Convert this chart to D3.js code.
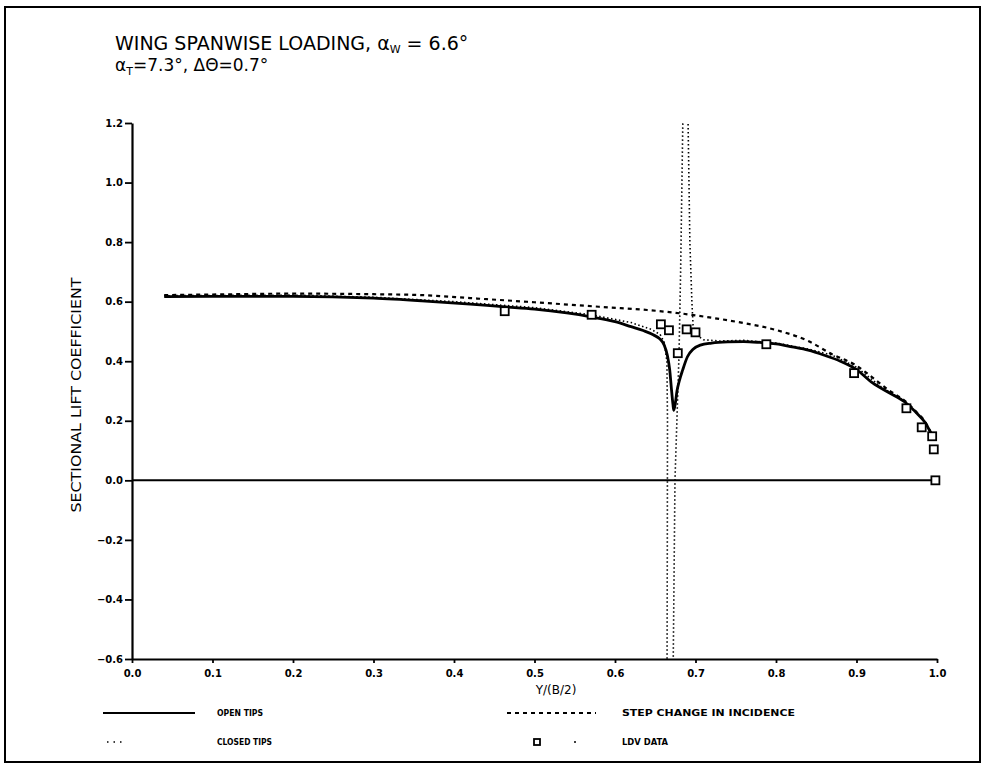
<!DOCTYPE html>
<html>
<head>
<meta charset="utf-8">
<script src="https://cdn.jsdelivr.net/npm/d3@7"></script>
<style>
  body { margin: 0; background: #fff; }
  svg { display: block; }
  text { font-family: "DejaVu Sans", sans-serif; fill: #000; }
</style>
</head>
<body>
<svg id="chart" width="984" height="769"></svg>
<script>
'use strict';

// tick values
var xTicks = [0, 0.1, 0.2, 0.3, 0.4, 0.5, 0.6, 0.7, 0.8, 0.9, 1.0];
var yTicks = [-0.6, -0.4, -0.2, 0.0, 0.2, 0.4, 0.6, 0.8, 1.0, 1.2];

// open tips (solid)
var openTips = [
  [0.04,0.617],[0.1,0.618],[0.2,0.618],[0.3,0.612],[0.36,0.603],[0.42,0.592],
  [0.46,0.583],[0.5,0.575],[0.54,0.562],[0.57,0.549],[0.6,0.533],[0.62,0.516],
  [0.635,0.503],[0.648,0.488],[0.656,0.474],[0.661,0.455],[0.665,0.42],[0.668,0.37],
  [0.670,0.31],[0.672,0.255],[0.673,0.235],[0.675,0.26],[0.677,0.3],[0.68,0.335],
  [0.684,0.37],[0.69,0.415],[0.697,0.44],[0.706,0.454],[0.72,0.461],[0.74,0.465],
  [0.76,0.466],[0.78,0.463],[0.8,0.458],[0.82,0.448],[0.84,0.437],[0.86,0.42],
  [0.88,0.4],[0.9,0.372],[0.92,0.327],[0.94,0.295],[0.96,0.263],[0.975,0.225],
  [0.985,0.195],[0.994,0.15]
];

// step change in incidence (dashed)
var stepChange = [
  [0.04,0.622],[0.1,0.624],[0.2,0.627],[0.3,0.625],[0.36,0.622],[0.42,0.612],
  [0.5,0.598],[0.58,0.583],[0.64,0.572],[0.68,0.561],[0.72,0.546],[0.76,0.528],
  [0.8,0.505],[0.84,0.468],[0.87,0.423],[0.9,0.385],[0.92,0.345],[0.94,0.303],
  [0.96,0.267],[0.975,0.228],[0.985,0.198],[0.994,0.152]
];

// closed tips (dotted), null breaks the line at the singularities
var closedTips = [
  [0.04,0.62],[0.2,0.622],[0.3,0.615],[0.4,0.6],[0.5,0.58],[0.57,0.556],[0.62,0.53],
  [0.645,0.507],[0.656,0.49],[0.661,0.465],[0.6645,0.4],[0.6652,0.2],[0.665,-0.2],[0.6646,-0.7],
  null,
  [0.672,-0.7],[0.6745,0.0],[0.6795,0.42],[0.6815,0.7],[0.6845,1.25],
  null,
  [0.6905,1.25],[0.693,0.8],[0.6955,0.6],[0.697,0.52],[0.7,0.49],[0.71,0.472],
  [0.73,0.468],[0.76,0.47],[0.8,0.461],[0.84,0.441],[0.87,0.42],[0.9,0.38],
  [0.93,0.315],[0.96,0.265],[0.985,0.197],[0.994,0.15]
];

// LDV data (squares)
var ldvData = [
  [0.463,0.568],[0.571,0.556],[0.657,0.524],[0.667,0.504],[0.678,0.427],[0.689,0.507],
  [0.700,0.497],[0.788,0.457],[0.897,0.36],[0.962,0.242],[0.981,0.178],[0.994,0.148],
  [0.996,0.104],[0.998,0.0]
];

var svg = d3.select("#chart"),
    x = d3.scaleLinear().domain([0, 1]).range([132, 937]),
    y = d3.scaleLinear().domain([-0.6, 1.2]).range([659, 123]);

// outer frame
svg.append("rect")
    .attr("x", 5).attr("y", 7).attr("width", 975).attr("height", 755)
    .attr("fill", "none").attr("stroke", "#000").attr("stroke-width", 2);

// clip to the plot area
svg.append("clipPath").attr("id", "plot")
  .append("rect")
    .attr("x", x(0)).attr("y", y(1.2))
    .attr("width", x(1) - x(0)).attr("height", y(-0.6) - y(1.2));

// axes
var fmt = d3.format(".1f");
var xAxis = svg.append("g")
    .attr("transform", "translate(0," + y(-0.6) + ")")
    .call(d3.axisBottom(x).tickValues(xTicks).tickFormat(fmt).tickSize(4).tickSizeOuter(0));
var yAxis = svg.append("g")
    .attr("transform", "translate(" + x(0) + ",0)")
    .call(d3.axisLeft(y).tickValues(yTicks).tickFormat(fmt).tickSize(7).tickSizeOuter(0));

[xAxis, yAxis].forEach(function(a){
  a.select(".domain").attr("stroke-width", 2.2);
  a.selectAll(".tick line").attr("stroke-width", 1.8);
  a.selectAll(".tick text")
      .style("font-family", "'DejaVu Sans', sans-serif")
      .style("font-weight", "bold")
      .style("font-size", "10px");
});
xAxis.selectAll(".tick text").attr("dy", "1.1em");
yAxis.selectAll(".tick text").attr("x", -9);

// zero line
svg.append("line")
    .attr("x1", x(0)).attr("x2", x(0.998))
    .attr("y1", y(0)).attr("y2", y(0))
    .attr("stroke", "#000").attr("stroke-width", 2);

var line = d3.line()
    .defined(function(d){ return d !== null; })
    .x(function(d){ return x(d[0]); })
    .y(function(d){ return y(d[1]); })
    .curve(d3.curveMonotoneX);

var lineLinear = d3.line()
    .defined(function(d){ return d !== null; })
    .x(function(d){ return x(d[0]); })
    .y(function(d){ return y(d[1]); });

var plot = svg.append("g").attr("clip-path", "url(#plot)");

plot.append("path")
    .attr("d", line(stepChange))
    .attr("fill", "none").attr("stroke", "#000")
    .attr("stroke-width", 2.2).attr("stroke-dasharray", "4,4");

plot.append("path")
    .attr("d", lineLinear(closedTips))
    .attr("fill", "none").attr("stroke", "#000")
    .attr("stroke-width", 1.6).attr("stroke-dasharray", "1.5,2.5");

plot.append("path")
    .attr("d", line(openTips))
    .attr("fill", "none").attr("stroke", "#000")
    .attr("stroke-width", 2.8).attr("stroke-linejoin", "round");

svg.append("g").selectAll("rect")
    .data(ldvData)
  .enter().append("rect")
    .attr("x", function(d){ return x(d[0]) - 4; })
    .attr("y", function(d){ return y(d[1]) - 4; })
    .attr("width", 8).attr("height", 8)
    .attr("fill", "#fff").attr("stroke", "#000").attr("stroke-width", 1.8);

// title
var t1 = svg.append("text").attr("x", 115).attr("y", 50).style("font-size", "19px");
t1.append("tspan").text("WING SPANWISE LOADING, ");
t1.append("tspan").text("α");
t1.append("tspan").attr("dy", 3).style("font-size", "11px").text("W");
t1.append("tspan").attr("dy", -3).text(" = 6.6°");

var t2 = svg.append("text").attr("x", 115).attr("y", 71).style("font-size", "17px");
t2.append("tspan").text("α");
t2.append("tspan").attr("dy", 4).style("font-size", "11px").text("T");
t2.append("tspan").attr("dy", -4).text("=7.3°, ΔΘ=0.7°");

// axis titles
svg.append("text")
    .attr("transform", "translate(81,395) rotate(-90)")
    .attr("text-anchor", "middle")
    .attr("textLength", 235).attr("lengthAdjust", "spacingAndGlyphs")
    .style("font-size", "14px")
    .text("SECTIONAL LIFT COEFFICIENT");

svg.append("text")
    .attr("x", 556).attr("y", 694)
    .attr("text-anchor", "middle")
    .style("font-size", "12px")
    .text("Y/(B/2)");

// legend
var legend = svg.append("g").style("font-size", "9px").style("font-weight", "bold");

legend.append("line").attr("x1", 103).attr("x2", 195).attr("y1", 713).attr("y2", 713)
    .attr("stroke", "#000").attr("stroke-width", 2.2);
legend.append("text").attr("x", 217).attr("y", 716)
    .attr("textLength", 46).attr("lengthAdjust", "spacingAndGlyphs").text("OPEN TIPS");

legend.append("line").attr("x1", 107).attr("x2", 126).attr("y1", 742).attr("y2", 742)
    .attr("stroke", "#000").attr("stroke-width", 1.4).attr("stroke-dasharray", "1.5,5");
legend.append("text").attr("x", 217).attr("y", 745)
    .attr("textLength", 55).attr("lengthAdjust", "spacingAndGlyphs").text("CLOSED TIPS");

legend.append("line").attr("x1", 507).attr("x2", 596).attr("y1", 713).attr("y2", 713)
    .attr("stroke", "#000").attr("stroke-width", 2.2).attr("stroke-dasharray", "4,4");
legend.append("text").attr("x", 622).attr("y", 716)
    .attr("textLength", 173).attr("lengthAdjust", "spacingAndGlyphs").text("STEP CHANGE IN INCIDENCE");

legend.append("rect").attr("x", 534).attr("y", 739).attr("width", 6).attr("height", 6)
    .attr("fill", "#fff").attr("stroke", "#000").attr("stroke-width", 1.8);
legend.append("circle").attr("cx", 575).attr("cy", 742).attr("r", 1).attr("fill", "#000");
legend.append("text").attr("x", 622).attr("y", 745)
    .attr("textLength", 46).attr("lengthAdjust", "spacingAndGlyphs").text("LDV DATA");
</script>
</body>
</html>
